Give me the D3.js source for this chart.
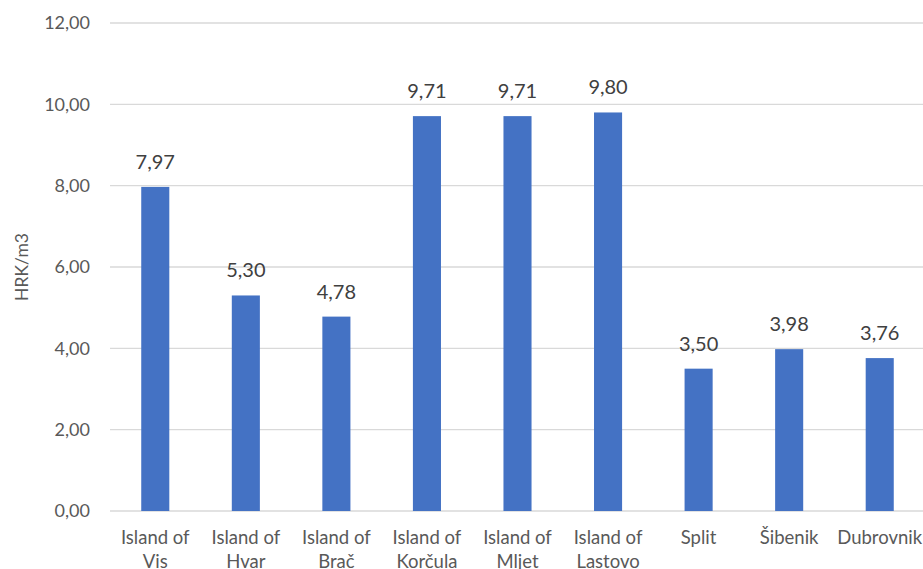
<!DOCTYPE html>
<html>
<head>
<meta charset="utf-8">
<script src="https://cdn.jsdelivr.net/npm/d3@7"></script>
<style>
  html, body { margin: 0; padding: 0; background: #fff; }
  svg { display: block; font-family: Lato, "Open Sans", sans-serif; }
</style>
</head>
<body>
<svg id="chart" width="923" height="569"></svg>
<script>
// Water price per location (HRK/m3)
const categories = [
  ["Island of", "Vis"],
  ["Island of", "Hvar"],
  ["Island of", "Brač"],
  ["Island of", "Korčula"],
  ["Island of", "Mljet"],
  ["Island of", "Lastovo"],
  ["Split"],
  ["Šibenik"],
  ["Dubrovnik"]
];
const values = [7.97, 5.30, 4.78, 9.71, 9.71, 9.80, 3.50, 3.98, 3.76];
const yTicks = [0, 2, 4, 6, 8, 10, 12];
const yTitle = "HRK/m3";

const svg = d3.select("#chart");
const margin = { left: 110, right: -2, top: 23, bottom: 58 };
const W = 923, H = 569;

const fmt = v => d3.format(".2f")(v).replace(".", ",");

const x = d3.scaleBand()
  .domain(categories.map((c, i) => i))
  .range([margin.left, W - margin.right])
  .paddingInner(0.69)
  .paddingOuter(0.345);

const y = d3.scaleLinear()
  .domain([0, 12])
  .range([H - margin.bottom, margin.top]);

// horizontal gridlines
svg.append("g")
  .selectAll("line")
  .data(yTicks)
  .join("line")
  .attr("x1", margin.left)
  .attr("x2", W)
  .attr("y1", d => y(d))
  .attr("y2", d => y(d))
  .attr("stroke", "#d9d9d9")
  .attr("stroke-width", 1.3);

// y tick labels
svg.append("g")
  .selectAll("text")
  .data(yTicks)
  .join("text")
  .attr("x", 90)
  .attr("y", d => y(d))
  .attr("dy", "0.35em")
  .attr("text-anchor", "end")
  .attr("font-size", 18)
  .attr("fill", "#595959")
  .text(fmt);

// y axis title
svg.append("text")
  .attr("transform", `translate(28,${(y(0) + y(12)) / 2}) rotate(-90)`)
  .attr("text-anchor", "middle")
  .attr("font-size", 17.5)
  .attr("fill", "#595959")
  .text(yTitle);

// bars
svg.append("g")
  .selectAll("rect")
  .data(values)
  .join("rect")
  .attr("x", (d, i) => x(i))
  .attr("width", x.bandwidth())
  .attr("y", d => y(d))
  .attr("height", d => y(0) - y(d))
  .attr("fill", "#4472c4");

// value labels
svg.append("g")
  .selectAll("text")
  .data(values)
  .join("text")
  .attr("x", (d, i) => x(i) + x.bandwidth() / 2)
  .attr("y", d => y(d) - 18)
  .attr("text-anchor", "middle")
  .attr("font-size", 20)
  .attr("fill", "#404040")
  .text(fmt);

// category labels
const cat = svg.append("g")
  .selectAll("text")
  .data(categories)
  .join("text")
  .attr("x", (d, i) => x(i) + x.bandwidth() / 2)
  .attr("y", 544)
  .attr("text-anchor", "middle")
  .attr("font-size", 18.5)
  .attr("fill", "#595959");
cat.selectAll("tspan")
  .data(d => d)
  .join("tspan")
  .attr("x", function () { return d3.select(this.parentNode).attr("x"); })
  .attr("dy", (d, i) => i === 0 ? 0 : 24)
  .text(d => d);
</script>
</body>
</html>
